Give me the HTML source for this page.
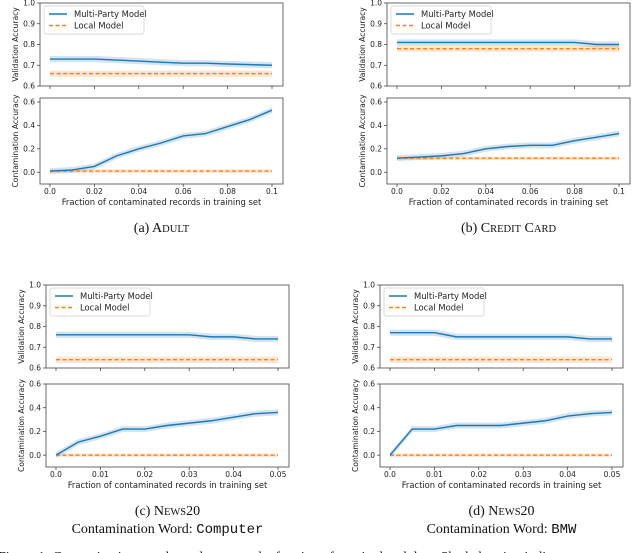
<!DOCTYPE html>
<html><head><meta charset="utf-8">
<style>
body{margin:0;background:#fff;width:640px;height:553px;overflow:hidden;position:relative}
svg{position:absolute;left:0;top:0}
.tk{font-family:"DejaVu Sans","Liberation Sans",sans-serif;font-size:7.5px;fill:#222}
.al{font-family:"DejaVu Sans","Liberation Sans",sans-serif;font-size:8.4px;fill:#222}
.yl{font-family:"DejaVu Sans","Liberation Sans",sans-serif;font-size:7.6px;fill:#222}
.cap{font-family:"Liberation Serif",serif;font-size:14px;fill:#111}
.mono{font-family:"Liberation Mono",monospace}
</style></head><body>
<svg id="fig" width="640" height="553"></svg>
<script>
// ---- data ----
const xA = [0,0.01,0.02,0.03,0.04,0.05,0.06,0.07,0.08,0.09,0.1];
const xN = [0,0.005,0.01,0.015,0.02,0.025,0.03,0.035,0.04,0.045,0.05];
const xTicksA = [0,0.02,0.04,0.06,0.08,0.1];
const xTickLabelsA = ["0.0","0.02","0.04","0.06","0.08","0.1"];
const xTicksN = [0,0.01,0.02,0.03,0.04,0.05];
const xTickLabelsN = ["0.0","0.01","0.02","0.03","0.04","0.05"];
const valTicks = [0.6,0.7,0.8,0.9,1.0];
const conTicks = [0,0.2,0.4,0.6];

const adultValMP = [.73,.73,.73,.725,.72,.715,.71,.71,.706,.703,.70];
const adultValLocal = [.66,.66,.66,.66,.66,.66,.66,.66,.66,.66,.66];
const adultConMP = [.01,.02,.05,.14,.20,.25,.31,.33,.39,.45,.53];
const adultConLocal = [.01,.01,.01,.01,.01,.01,.01,.01,.01,.01,.01];

const ccValMP = [.81,.81,.81,.81,.81,.81,.81,.81,.81,.80,.80];
const ccValLocal = [.78,.78,.78,.78,.78,.78,.78,.78,.78,.78,.78];
const ccConMP = [.12,.13,.14,.16,.20,.22,.23,.23,.27,.30,.33];
const ccConLocal = [.12,.12,.12,.12,.12,.12,.12,.12,.12,.12,.12];

const compValMP = [.76,.76,.76,.76,.76,.76,.76,.75,.75,.74,.74];
const compValLocal = [.64,.64,.64,.64,.64,.64,.64,.64,.64,.64,.64];
const compConMP = [0,.11,.16,.22,.22,.25,.27,.29,.32,.35,.36];
const compConLocal = [0,0,0,0,0,0,0,0,0,0,0];

const bmwValMP = [.77,.77,.77,.75,.75,.75,.75,.75,.75,.74,.74];
const bmwValLocal = [.64,.64,.64,.64,.64,.64,.64,.64,.64,.64,.64];
const bmwConMP = [0,.22,.22,.25,.25,.25,.27,.29,.33,.35,.36];
const bmwConLocal = [0,0,0,0,0,0,0,0,0,0,0];

const bandVal = 0.015, bandLocal = 0.015, bandCon = 0.025;

const svg = document.getElementById('fig');
const NS = 'http://www.w3.org/2000/svg';
function mk(tag, attrs, parent){const e=document.createElementNS(NS,tag);for(const k in attrs)e.setAttribute(k,attrs[k]);(parent||svg).appendChild(e);return e;}

function axes(g, ax, xs, mp, loc, yTicks, yLab, xTicks, xLabels, showXLabels, legend, ylo, yhi, bw){
  const sx = v => ax.x0d + (v - xs[0])/(xs[xs.length-1]-xs[0])*(ax.x1d-ax.x0d);
  const sy = v => ax.yb - (v - ylo)/(yhi-ylo)*(ax.yb-ax.yt);
  const band=(arr,w,col,name)=>{let d='M'+arr.map((v,i)=>sx(xs[i])+','+sy(v+w)).join('L')+'L'+arr.map((v,i)=>[sx(xs[i]),sy(v-w)]).reverse().map(p=>p.join(',')).join('L')+'Z';
    const p=mk('path',{d,fill:col,'fill-opacity':0.2},g);};
  band(mp,bw,'#1f77b4','multi-party-band');
  band(loc,bandLocal,'#ff7f0e','local-band');
  const line=(arr,col,dash,name)=>{const p=mk('polyline',{points:arr.map((v,i)=>sx(xs[i])+','+sy(v)).join(' '),fill:'none',stroke:col,'stroke-width':1.4},g);if(dash)p.setAttribute('stroke-dasharray','4,2.5');
    };
  line(loc,'#ff7f0e',true,'local-model-line');
  line(mp,'#1f77b4',false,'multi-party-line');
  const fr=mk('rect',{x:ax.x0,y:ax.yt,width:ax.x1-ax.x0,height:ax.yb-ax.yt,fill:'none',stroke:'#444','stroke-width':0.8},g);
  
  yTicks.forEach(t=>{const y=sy(t);mk('line',{x1:ax.x0-3,x2:ax.x0,y1:y,y2:y,stroke:'#333','stroke-width':0.7},g);
    const tx=mk('text',{x:ax.x0-5,y:y+2.7,'text-anchor':'end',class:'tk'},g);tx.textContent=t.toFixed(1);
    });
  xTicks.forEach((t,i)=>{const x=sx(t);mk('line',{x1:x,x2:x,y1:ax.yb,y2:ax.yb+3,stroke:'#333','stroke-width':0.7},g);
    if(showXLabels){const tx=mk('text',{x:x,y:ax.yb+10,'text-anchor':'middle',class:'tk'},g);tx.textContent=xLabels[i];
    }});
  const cy=(ax.yt+ax.yb)/2;
  const yl=mk('text',{x:0,y:0,'text-anchor':'middle',class:'yl',transform:`translate(${ax.x0-22},${cy}) rotate(-90)`},g);yl.textContent=yLab;
  
  if(legend){const lx=ax.x0+4,ly=ax.yt+3;
    const lb=mk('rect',{x:lx,y:ly,width:100,height:28,rx:2,fill:'#fff','fill-opacity':0.8,stroke:'#ccc','stroke-width':0.7},g);
    
    mk('line',{x1:lx+5,x2:lx+23,y1:ly+8,y2:ly+8,stroke:'#1f77b4','stroke-width':1.4},g);
    mk('line',{x1:lx+5,x2:lx+23,y1:ly+19.5,y2:ly+19.5,stroke:'#ff7f0e','stroke-width':1.4,'stroke-dasharray':'4,2.5'},g);
    const t1=mk('text',{x:lx+30,y:ly+11,class:'al'},g);t1.textContent='Multi-Party Model';
    
    const t2=mk('text',{x:lx+30,y:ly+22.5,class:'al'},g);t2.textContent='Local Model';
    }
}

function panel(name, ox, oy, geom, xs, vMP, vL, cMP, cL, xT, xTL, cap1, cap2, mono){
  const g=mk('g',{});
  
  const top={x0:ox+geom.x0,x1:ox+geom.x1,x0d:ox+geom.d0,x1d:ox+geom.d1,yt:oy+geom.tt,yb:oy+geom.tb};
  const bot={x0:ox+geom.x0,x1:ox+geom.x1,x0d:ox+geom.d0,x1d:ox+geom.d1,yt:oy+geom.bt,yb:oy+geom.bb};
  axes(g,top,xs,vMP,vL,valTicks,'Validation Accuracy',xT,xTL,false,true,0.6,1.0,bandVal);
  axes(g,bot,xs,cMP,cL,conTicks,'Contamination Accuracy',xT,xTL,true,false,geom.blo,geom.bhi,bandCon);
  const cx=(top.x0+top.x1)/2;
  const xl=mk('text',{x:cx,y:bot.yb+21,'text-anchor':'middle',class:'al'},g);xl.textContent='Fraction of contaminated records in training set';
  
  const c=mk('text',{x:cx,y:bot.yb+48,'text-anchor':'middle',class:'cap'},g);c.innerHTML=cap1;
  
  if(cap2){const c2=mk('text',{x:cx,y:bot.yb+66,'text-anchor':'middle',class:'cap'},g);c2.innerHTML=cap2+'<tspan class="mono">'+mono+'</tspan>';
    }
}
const gA={x0:40,x1:283,d0:50,d1:272,tt:3,tb:86,bt:98,bb:184,blo:-0.1,bhi:0.634};
const gC={x0:46,x1:289,d0:56,d1:278,tt:15,tb:98,bt:114,bb:197,blo:-0.1,bhi:0.6};
const sc='<tspan font-size="10.5">';
panel('panel-adult',0,0,gA,xA,adultValMP,adultValLocal,adultConMP,adultConLocal,xTicksA,xTickLabelsA,'(a) A'+sc+'DULT</tspan>');
panel('panel-credit-card',347,0,gA,xA,ccValMP,ccValLocal,ccConMP,ccConLocal,xTicksA,xTickLabelsA,'(b) C'+sc+'REDIT</tspan> C'+sc+'ARD</tspan>');
panel('panel-news20-computer',0,270,gC,xN,compValMP,compValLocal,compConMP,compConLocal,xTicksN,xTickLabelsN,'(c) N'+sc+'EWS</tspan>20','Contamination Word: ','Computer');
panel('panel-news20-bmw',334,270,gC,xN,bmwValMP,bmwValLocal,bmwConMP,bmwConLocal,xTicksN,xTickLabelsN,'(d) N'+sc+'EWS</tspan>20','Contamination Word: ','BMW');
const fc=mk('text',{x:-2,y:561,class:'cap','font-size':'15'});
fc.textContent='Figure 1: Contamination attack results across the fraction of manipulated data. Shaded region indicates';


</script>
</body></html>
